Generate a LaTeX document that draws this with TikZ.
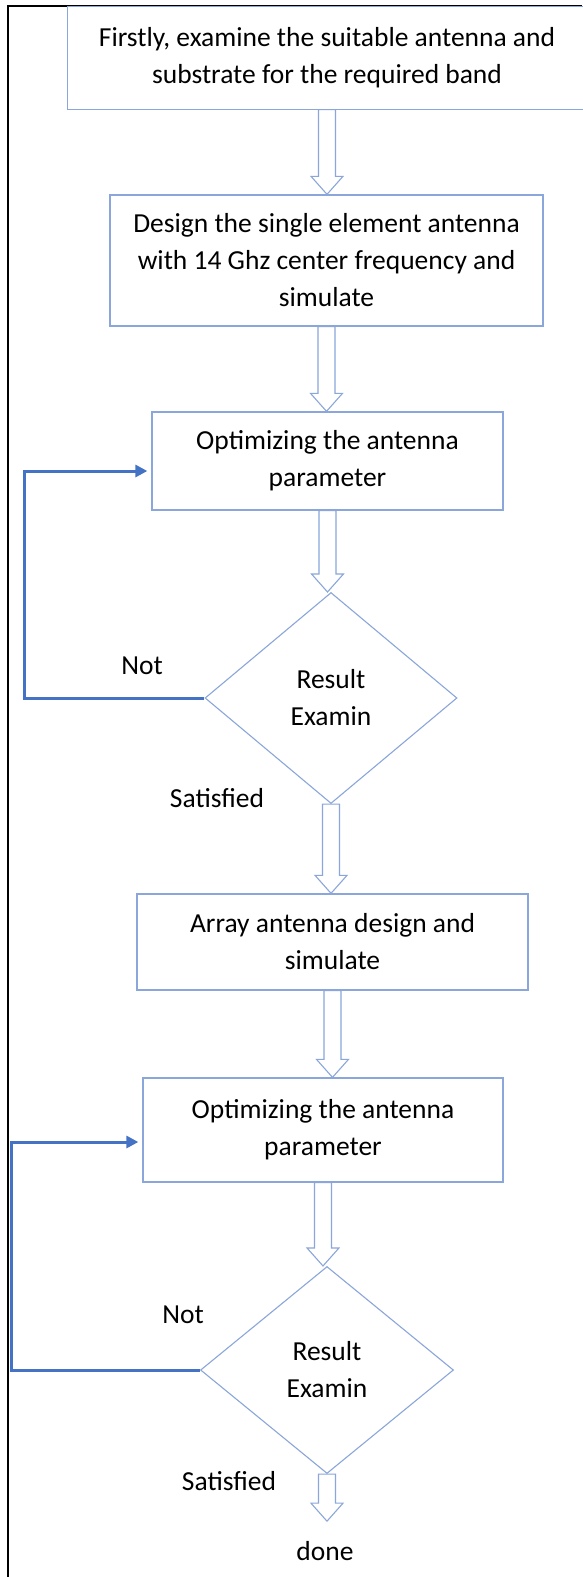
\documentclass[tikz,border=0pt]{standalone}
\usepackage{fontspec}
\setmainfont{Carlito}
\usepackage{tikz}
\usetikzlibrary{calc,arrows.meta,shapes.geometric}
\definecolor{boxblue}{HTML}{8AA6DA}
\definecolor{loopblue}{HTML}{4472C4}
\tikzset{
  every node/.style={font=\fontsize{27.5}{37}\selectfont},
  procbox/.style={draw=boxblue,line width=1.3pt,fill=white,align=center,inner sep=0pt},
  decision/.style={diamond,draw=boxblue,line width=1.1pt,fill=white,align=center,inner sep=0pt},
  blockarrow/.style={draw=boxblue,line width=1.1pt,fill=white,
    to path={let \p1=(\tikztostart), \p2=(\tikztotarget) in
      (\x1-8.5pt,\y1) -- (\x1-8.5pt,\y2+18pt) -- (\x1-16pt,\y2+18pt) -- (\x1,\y2)
      -- (\x1+16pt,\y2+18pt) -- (\x1+8.5pt,\y2+18pt) -- (\x1+8.5pt,\y1) -- cycle}},
  loopback/.style={draw=loopblue,line width=3pt,shorten >=4pt,
    -{Triangle[length=12pt,width=12pt]}},
  frame/.style={black,line width=1.4pt}
}

\begin{document}
\begin{tikzpicture}[x=1pt,y=-1pt]
  \useasboundingbox (0,0) rectangle (582,1577);
  \draw[frame] (8,1577) -- (8,6) -- (582,6);

  % process boxes and decisions
  \node[procbox,draw=none,minimum width=518pt,minimum height=102pt] (box1) at (327,58)
    {Firstly, examine the suitable antenna and\\substrate for the required band};
  % top box runs off the right edge of the page
  \draw[boxblue,line width=1.3pt] ([xshift=30pt]box1.north east) -- (box1.north west)
    -- (box1.south west) -- ([xshift=30pt]box1.south east);
  \node[procbox,minimum width=433pt,minimum height=131pt] (box2) at (326.5,260.5)
    {Design the single element antenna\\with 14 Ghz center frequency and\\simulate};
  \node[procbox,minimum width=351pt,minimum height=98pt] (box3) at (327.5,461)
    {Optimizing the antenna\\parameter};
  \node[decision,minimum width=252pt,minimum height=211pt] (dia1) at (331,698)
    {Result\\Examin};
  \node[procbox,minimum width=391pt,minimum height=96pt] (box4) at (332.5,942)
    {Array antenna design and\\simulate};
  \node[procbox,minimum width=360pt,minimum height=104pt] (box5) at (323,1130)
    {Optimizing the antenna\\parameter};
  \node[decision,minimum width=253pt,minimum height=207pt] (dia2) at (327,1370)
    {Result\\Examin};

  % labels
  \node (no1) at (142,666) {Not};
  \node (sat1) at (217,798) {Satisfied};
  \node (no2) at (183,1315) {Not};
  \node (sat2) at (229,1481) {Satisfied};
  \node[inner ysep=20pt] (done) at (325,1551) {done};

  % main flow
  \draw[blockarrow] (box1.south) to (box2.north);
  \draw[blockarrow] (box2.south) to (box3.north);
  \draw[blockarrow] (box3.south) to (dia1.north);
  \draw[blockarrow] (dia1.south) to (box4.north);
  \draw[blockarrow] (box4.south) to (box5.north);
  \draw[blockarrow] (box5.south) to (dia2.north);
  \draw[blockarrow] (dia2.south) to (done.north);

  % feedback loops
  \coordinate (ret1) at (24,471);
  \coordinate (ret2) at (11,1142);
  \draw[loopback] (dia1.west) -| (ret1) -- (ret1 -| box3.west);
  \draw[loopback] (dia2.west) -| (ret2) -- (ret2 -| box5.west);
\end{tikzpicture}
\end{document}
